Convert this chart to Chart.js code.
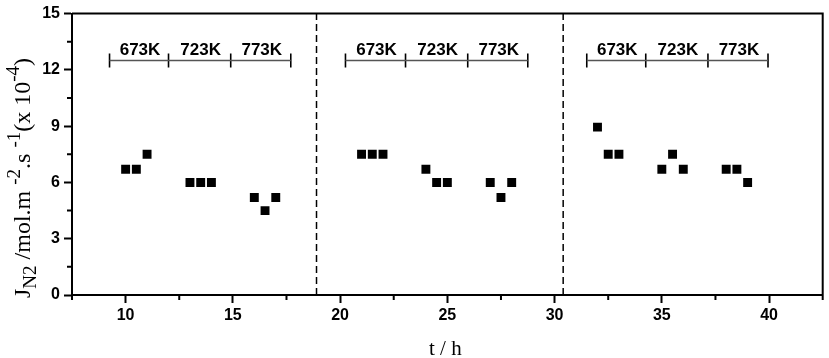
<!DOCTYPE html>
<html><head><meta charset="utf-8">
<script src="https://cdn.jsdelivr.net/npm/chart.js@4/dist/chart.umd.min.js"></script>
<style>html,body{margin:0;padding:0;background:#fff;} #wrap{width:829px;height:358px;position:relative}</style>
</head><body><div id="wrap"><canvas id="c"></canvas></div>
<script>
// ---- data ----
const timesH = [10,10.5,11, 13,13.5,14, 16,16.5,17, 21,21.5,22, 24,24.5,25, 27,27.5,28, 32,32.5,33, 35,35.5,36, 38,38.5,39];
const fluxN2 = [6.7,6.7,7.5, 6.0,6.0,6.0, 5.2,4.5,5.2, 7.5,7.5,7.5, 6.7,6.0,6.0, 6.0,5.2,6.0, 8.95,7.5,7.5, 6.7,7.5,6.7, 6.7,6.7,6.0];
const dividerTimes = [18.9, 30.4];
const bracketEdges1 = [9.25, 12.0, 14.9, 17.7];
const bracketEdges2 = [20.25, 23.05, 25.95, 28.75];
const bracketEdges3 = [31.5, 34.25, 37.15, 39.95];
const tempLabels = ['673K', '723K', '773K'];
const bracketLevel = 12.5;
const bracketTickHalf = 0.37;
const xMajorTicks = [10, 15, 20, 25, 30, 35, 40];
const xMinorTicks = [7.5, 12.5, 17.5, 22.5, 27.5, 32.5, 37.5, 42.5];
const yMajorTicks = [0, 3, 6, 9, 12, 15];
const yMinorTicks = [1.5, 4.5, 7.5, 10.5, 13.5];

const bracketGroups = [bracketEdges1, bracketEdges2, bracketEdges3];

const pointData = timesH.map((t, i) => ({x: t, y: fluxN2[i]}));
const dividerData = [];
dividerTimes.forEach(d => { dividerData.push({x: d, y: 0}, {x: d, y: 15}, {x: d, y: null}); });
const bracketLineData = [];
bracketGroups.forEach(g => { bracketLineData.push({x: g[0], y: bracketLevel}, {x: g[g.length-1], y: bracketLevel}, {x: g[g.length-1], y: null}); });
const bracketTickData = [];
bracketGroups.forEach(g => g.forEach(e => { bracketTickData.push({x: e, y: bracketLevel - bracketTickHalf}, {x: e, y: bracketLevel + bracketTickHalf}, {x: e, y: null}); }));

const SANS = 'Liberation Sans, Arial, sans-serif';
const SERIF = 'Liberation Serif, Times New Roman, serif';

const extras = {
  id: 'extras',
  afterDraw(chart) {
    const ctx = chart.ctx, a = chart.chartArea;
    const xs = chart.scales.x, ys = chart.scales.y;
    ctx.save();
    ctx.strokeStyle = '#000';
    ctx.lineWidth = 2;
    ctx.beginPath();
    ctx.moveTo(a.left, a.top); ctx.lineTo(a.right, a.top); ctx.lineTo(a.right, a.bottom);
    ctx.stroke();
    // minor ticks
    ctx.beginPath();
    xMinorTicks.forEach(v => { const px = xs.getPixelForValue(v); ctx.moveTo(px, a.bottom); ctx.lineTo(px, a.bottom + 5); });
    yMinorTicks.forEach(v => { const py = ys.getPixelForValue(v); ctx.moveTo(a.left, py); ctx.lineTo(a.left - 5, py); });
    ctx.stroke();
    // temperature labels
    ctx.fillStyle = '#000';
    ctx.font = 'bold 17px ' + SANS;
    ctx.textAlign = 'center';
    ctx.textBaseline = 'alphabetic';
    const ly = ys.getPixelForValue(bracketLevel) - 6;
    bracketGroups.forEach(g => {
      for (let i = 0; i < tempLabels.length; i++) {
        const cx = (xs.getPixelForValue(g[i]) + xs.getPixelForValue(g[i+1])) / 2 + 1;
        ctx.fillText(tempLabels[i], cx, ly);
      }
    });
    // x axis title
    ctx.font = '21px ' + SERIF;
    ctx.fillText('t / h', (a.left + a.right) / 2 - 2, 355);
    // y axis title with sub/superscripts
    const big = 24, small = 19;
    const segs = [
      {t: 'J', s: big, dy: 0},
      {t: 'N', s: small, dy: 6},
      {t: '2', s: small, dy: 6},
      {t: ' /mol.m ', s: big, dy: 0},
      {t: '-2', s: small, dy: -10},
      {t: '.s ', s: big, dy: 0},
      {t: '-1', s: small, dy: -10},
      {t: '(x 10', s: big, dy: 0},
      {t: '-4', s: small, dy: -11},
      {t: ')', s: big, dy: 0}
    ];
    segs.forEach(sg => { ctx.font = sg.s + 'px ' + SERIF; sg.w = ctx.measureText(sg.t).width; });
    ctx.translate(30, 298);
    ctx.rotate(-Math.PI / 2);
    ctx.textAlign = 'left';
    let x0 = 0;
    segs.forEach(sg => { ctx.font = sg.s + 'px ' + SERIF; ctx.fillText(sg.t, x0, sg.dy); x0 += sg.w; });
    ctx.restore();
  }
};

const tickFont = {family: SANS, weight: 'bold', size: 16};

new Chart(document.getElementById('c'), {
  type: 'scatter',
  data: {
    datasets: [
      {type: 'line', data: dividerData, borderColor: '#000', borderWidth: 1.5, borderDash: [7, 4], pointRadius: 0, spanGaps: false},
      {type: 'line', data: bracketLineData, borderColor: '#555', borderWidth: 1.6, pointRadius: 0, spanGaps: false},
      {type: 'line', data: bracketTickData, borderColor: '#000', borderWidth: 1.6, pointRadius: 0, spanGaps: false},
      {type: 'scatter', data: pointData, pointStyle: 'rect', pointRadius: 6.3, backgroundColor: '#000', borderWidth: 0}
    ]
  },
  options: {
    responsive: true,
    maintainAspectRatio: false,
    animation: false,
    layout: {padding: {left: 0, right: 4, top: 10, bottom: 0}},
    plugins: {legend: {display: false}, tooltip: {enabled: false}},
    scales: {
      x: {
        type: 'linear', min: 7.5, max: 42.5,
        afterBuildTicks: s => { s.ticks = xMajorTicks.map(v => ({value: v})); },
        afterFit: s => { s.height = 63; },
        grid: {drawOnChartArea: false, drawTicks: true, tickLength: 8, tickWidth: 2, tickColor: '#000'},
        border: {display: true, color: '#000', width: 2},
        ticks: {font: tickFont, color: '#000', padding: 3, maxRotation: 0, autoSkip: false}
      },
      y: {
        type: 'linear', min: 0, max: 15,
        afterBuildTicks: s => { s.ticks = yMajorTicks.map(v => ({value: v})); },
        afterFit: s => { s.width = 72; },
        grid: {drawOnChartArea: false, drawTicks: true, tickLength: 8, tickWidth: 2, tickColor: '#000'},
        border: {display: true, color: '#000', width: 2},
        ticks: {font: tickFont, color: '#000', padding: 4}
      }
    }
  },
  plugins: [extras]
});
</script>
</body></html>
